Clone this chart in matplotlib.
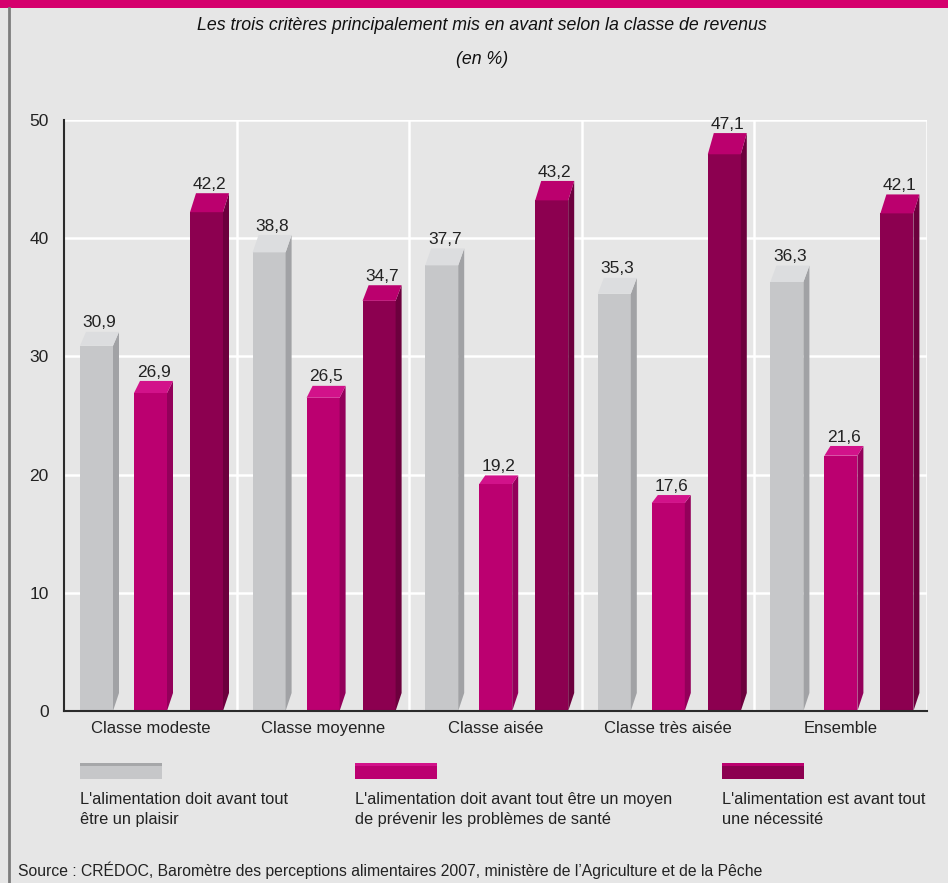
import matplotlib
matplotlib.use("Agg")
import matplotlib.pyplot as plt
from matplotlib.patches import Polygon, Rectangle
from matplotlib.lines import Line2D
import numpy as np

categories = ["Classe modeste", "Classe moyenne", "Classe aisée", "Classe très aisée", "Ensemble"]
plaisir = [30.9, 38.8, 37.7, 35.3, 36.3]
sante = [26.9, 26.5, 19.2, 17.6, 21.6]
necessite = [42.2, 34.7, 43.2, 47.1, 42.1]
series_labels = ["L'alimentation doit avant tout\nêtre un plaisir",
                 "L'alimentation doit avant tout être un moyen\nde prévenir les problèmes de santé",
                 "L'alimentation est avant tout\nune nécessité"]
yticks = [0, 10, 20, 30, 40, 50]
title = "Les trois critères principalement mis en avant selon la classe de revenus"
subtitle = "(en %)"
source = "Source : CRÉDOC, Baromètre des perceptions alimentaires 2007, ministère de l’Agriculture et de la Pêche"

FONT = ['Liberation Sans', 'DejaVu Sans']
plt.rcParams['font.family'] = FONT

BG = "#e6e6e6"
TXT = "#222222"
colors = [
    dict(front="#c6c7c9", side="#a1a2a5", top="#dcdddf"),
    dict(front="#bb0070", side="#93005a", top="#d2128a"),
    dict(front="#8c0050", side="#6c003d", top="#bb006e"),
]

W, H = 948, 883
fig = plt.figure(figsize=(W / 100, H / 100), dpi=100, facecolor=BG)

# axes geometry in pixels
ax_l, ax_r, ax_top, ax_bot = 64, 927, 120, 711
ax = fig.add_axes([ax_l / W, 1 - ax_bot / H, (ax_r - ax_l) / W, (ax_bot - ax_top) / H])
ax.set_facecolor(BG)
ax.set_xlim(0, len(categories))
ax.set_ylim(0, 50)

px_x = (ax_r - ax_l) / len(categories)   # pixels per x unit
px_y = (ax_bot - ax_top) / 50.0          # pixels per y unit

# grid
for t in yticks[1:]:
    ax.axhline(t, color="white", lw=1.8, zorder=1)
for i in range(1, len(categories) + 1):
    ax.axvline(i, color="white", lw=1.8, zorder=1)

for s in ["top", "right"]:
    ax.spines[s].set_visible(False)
for s in ["left", "bottom"]:
    ax.spines[s].set_color("#2a2a2a")
    ax.spines[s].set_linewidth(1.5)
    ax.spines[s].set_zorder(6)

ax.set_yticks(yticks)
ax.set_yticklabels([str(t) for t in yticks], fontsize=12.5, color=TXT)
ax.set_xticks(np.arange(len(categories)) + 0.5)
ax.set_xticklabels(categories, fontsize=12, color=TXT)
ax.tick_params(axis="both", length=0)
ax.tick_params(axis="y", pad=11)
ax.tick_params(axis="x", pad=7)

bar_w = 33 / px_x
offsets = [16 / px_x, 70 / px_x, 126 / px_x]
dx = 6 / px_x
bottom_slant = 18 / px_y

x_base = np.arange(len(categories))
for k, vals in enumerate([plaisir, sante, necessite]):
    c = colors[k]
    lefts = x_base + offsets[k]
    ax.bar(lefts, vals, width=bar_w, align="edge", color=c["front"], edgecolor="none", zorder=3)
    for x0, v in zip(lefts, vals):
        x1 = x0 + bar_w
        dv = 0.45 * v / px_y
        top = Polygon([(x0, v), (x1, v), (x1 + dx, v + dv), (x0 + dx, v + dv)],
                      closed=True, facecolor=c["top"], edgecolor="none", zorder=3)
        side = Polygon([(x1, 0), (x1 + dx, min(bottom_slant, v + dv)), (x1 + dx, v + dv), (x1, v)],
                       closed=True, facecolor=c["side"], edgecolor="none", zorder=3)
        ax.add_patch(side)
        ax.add_patch(top)
        ax.text(x0 + (bar_w + dx) / 2, v + dv + 0.12, f"{v:.1f}".replace(".", ","),
                ha="center", va="bottom", fontsize=12.5, color=TXT, zorder=4)

# header band and frame
fig.patches.append(Rectangle((0, 1 - 8 / H), 1, 8 / H, transform=fig.transFigure,
                             facecolor="#d5006d", edgecolor="none"))
fig.lines.append(Line2D([9 / W, 9 / W], [0, 1 - 8 / H], transform=fig.transFigure,
                        color="#7d7d7d", lw=2))

fig.text(482 / W, 1 - 26 / H, title, ha="center", va="center", fontsize=12.8,
         style="italic", color="#111111")
fig.text(482 / W, 1 - 60 / H, subtitle, ha="center", va="center", fontsize=12.8,
         style="italic", color="#111111")

# legend
leg_x = [80, 355, 722]
for k in range(3):
    c = colors[k]
    x0 = leg_x[k]
    fig.patches.append(Rectangle((x0 / W, 1 - 779 / H), 82 / W, 14 / H, transform=fig.transFigure,
                                 facecolor=c["front"], edgecolor="none"))
    fig.patches.append(Rectangle((x0 / W, 1 - 766 / H), 82 / W, 3 / H, transform=fig.transFigure,
                                 facecolor=c["top"] if k else "#a6a7a9", edgecolor="none"))
    fig.text(x0 / W, 1 - 792 / H, series_labels[k], ha="left", va="top", fontsize=11.8,
             color=TXT, linespacing=1.45)

fig.text(18 / W, 1 - 870 / H, source, ha="left", va="center", fontsize=11.3, color=TXT)

fig.savefig("out.png", dpi=100, facecolor=BG)
